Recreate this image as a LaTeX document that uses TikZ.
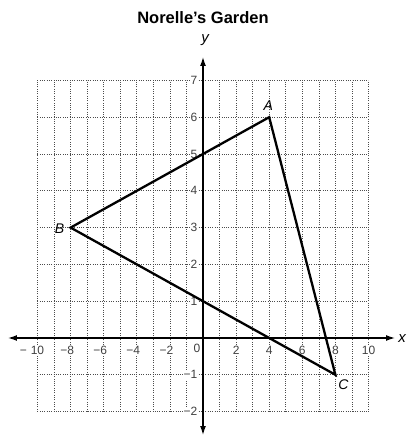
\documentclass[tikz,border=0pt]{standalone}
\usepackage{fontspec}
\setmainfont{Liberation Sans}
\usetikzlibrary{arrows.meta}
\begin{document}
\begin{tikzpicture}[x=16.55pt,y=36.8pt,
  gridline/.style={black!70, line width=0.7pt, dash pattern=on 0.8pt off 1.5pt},
  axisline/.style={black, line width=1.3pt, {Latex[length=9pt,width=6pt]}-{Latex[length=9pt,width=6pt]}},
  tri/.style={black, line width=2.3pt, line join=miter},
  ticklbl/.style={font=\fontsize{12}{13}\selectfont, text=black!75, fill=white, inner sep=0.6pt},
  ptlbl/.style={font=\fontsize{14}{15}\selectfont\itshape, inner sep=0pt},
  titlelbl/.style={font=\fontsize{16.5}{18}\selectfont\bfseries, inner sep=0pt},
  axlbl/.style={font=\fontsize{15}{16}\selectfont\itshape, inner sep=0pt}]
\useasboundingbox (-203pt,-100pt) rectangle (205pt,338pt);
% grid
\foreach \i in {-10,...,10} \draw[gridline] (\i,-2) -- (\i,7);
\foreach \j in {-2,...,7} \draw[gridline] (-10,\j) -- (10,\j);
% tick labels
\foreach \i/\t in {-8/8,-6/6,-4/4,-2/2}
  \node[ticklbl] (xl\t) at (\i,0) [yshift=-12pt] {\llap{−}\t};
\node[ticklbl] (xl10m) at (-10,0) [yshift=-12pt] {\llap{−\hspace{4pt}}10};
\foreach \i in {2,4,6,8,10}
  \node[ticklbl] (xlp\i) at (\i,0) [yshift=-12pt] {\i};
\node[ticklbl] (zero) at (0,0) [xshift=-6pt, yshift=-10pt] {0};
\foreach \j in {1,...,7}
  \node[ticklbl, anchor=east] (yl\j) at (0,\j) [xshift=-5pt] {\j};
\foreach \j in {1,2}
  \node[ticklbl, anchor=east] (ylm\j) at (0,-\j) [xshift=-5pt] {−\j};
% axes
\coordinate (xL) at (-195pt,0);
\coordinate (xR) at (192pt,0);
\coordinate (yB) at (0,-97pt);
\coordinate (yT) at (0,281pt);
\draw[axisline] (xL) -- (xR);
\draw[axisline] (yB) -- (yT);
\node[axlbl] (xlabel) at (199pt,-1pt) {x};
\node[axlbl] (ylabel) at (2pt,298pt) {y};
% title
\node[titlelbl] (title) at (0,320pt) {Norelle’s Garden};
% triangle
\coordinate (A) at (4,6);
\coordinate (B) at (-8,3);
\coordinate (C) at (8,-1);
\draw[tri] (A) -- (B) -- (C) -- cycle;
\node[ptlbl] (lA) at (A) [xshift=-1pt, yshift=12pt] {A};
\node[ptlbl] (lB) at (B) [xshift=-11pt, yshift=-1pt] {B};
\node[ptlbl] (lC) at (C) [xshift=8pt, yshift=-10pt] {C};
\end{tikzpicture}
\end{document}
